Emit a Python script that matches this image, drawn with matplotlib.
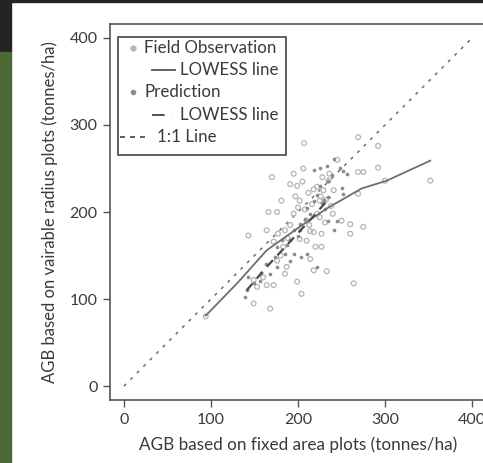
"""
AGB comparison: variable radius plots vs fixed area plots.
Field observations, model predictions, LOWESS lines and 1:1 reference.
"""
import matplotlib
matplotlib.use("Agg")
import matplotlib.pyplot as plt
from matplotlib.lines import Line2D
from matplotlib.patches import Rectangle

plt.rcParams["font.family"] = ["Lato", "DejaVu Sans"]

# ---------------------------------------------------------------------------
# Data
# ---------------------------------------------------------------------------

obs_x = [207, 269, 292, 245, 292, 269, 275, 352, 300, 170, 195, 206, 191, 199,
         222, 229, 235, 241, 269, 181, 166, 176, 195, 202, 216, 222, 225, 260,
         275, 260, 164, 143, 177, 185, 191, 218, 227, 202, 210, 220, 227, 214,
         187, 176, 185, 199, 218, 233, 153, 164, 172, 264, 204, 149, 168, 94,
         149, 160, 225, 231, 240, 210, 212, 228, 205, 197, 183, 238, 250, 214,
         218, 226, 232, 208, 200, 188, 172, 180, 213, 236]
obs_y = [279, 286, 276, 260, 251, 246, 246, 236, 236, 240, 244, 250, 232, 230,
         229, 225, 236, 225, 221, 213, 200, 200, 198, 213, 209, 198, 213, 186,
         183, 175, 179, 173, 175, 179, 185, 177, 175, 169, 167, 160, 160, 146,
         137, 144, 129, 120, 133, 132, 114, 116, 116, 118, 106, 95, 89, 80,
         122, 125, 194, 188, 198, 190, 222, 240, 235, 218, 160, 207, 190, 178,
         226, 218, 214, 203, 205, 170, 166, 150, 185, 244]

pred_x = [241, 233, 225, 218, 248, 252, 256, 250, 252, 245, 241, 235, 214, 210,
          218, 195, 191, 187, 185, 176, 173, 176, 168, 156, 149, 141, 139, 143,
          202, 202, 195, 191, 204, 210, 222, 235, 231, 225, 235, 239, 228, 208,
          200, 182, 163, 158, 222, 230]
pred_y = [261, 253, 250, 248, 250, 247, 244, 228, 221, 190, 179, 190, 198, 205,
          213, 179, 168, 162, 152, 160, 148, 137, 129, 121, 118, 110, 102, 125,
          186, 179, 152, 144, 148, 152, 137, 217, 203, 230, 236, 242, 210, 192,
          172, 168, 140, 130, 220, 214]

lowess_obs_x = [94, 130, 164, 202, 233, 273, 302, 352]
lowess_obs_y = [81, 118, 156, 183, 204, 227, 236, 259]

lowess_pred_x = [141, 165, 190, 215, 237]
lowess_pred_y = [110, 138, 165, 192, 217]

one_to_one = [0, 400]

TICKS = [0, 100, 200, 300, 400]

COL_OBS = "#b4b4b4"
COL_PRED = "#8c8c8c"
COL_TEXT = "#3a3a3a"
COL_AXIS = "#555555"

# ---------------------------------------------------------------------------
# Figure
# ---------------------------------------------------------------------------

fig = plt.figure(figsize=(4.83, 4.63), dpi=100, facecolor="white")
W, H = 483, 463

# dark frame bits around the white page (top strip + left strip)
fig.patches.append(Rectangle((0, 1 - 2 / H), 1, 2 / H, transform=fig.transFigure,
                             color="#242424", zorder=0))
fig.patches.append(Rectangle((0, 1 - 52 / H), 11 / W, 52 / H, transform=fig.transFigure,
                             color="#242424", zorder=0))
fig.patches.append(Rectangle((0, 0), 11 / W, 1 - 52 / H, transform=fig.transFigure,
                             color="#4b6a35", zorder=0))

ax = fig.add_axes([110 / W, 63 / H, 376 / W, 376 / H])
ax.set_xlim(-16, 416)
ax.set_ylim(-16, 416)

ax.plot(one_to_one, one_to_one, color="#6a6a6a", lw=1.1, ls=(0, (2, 4)), zorder=2)
ax.scatter(obs_x, obs_y, s=12, facecolors="none", edgecolors=COL_OBS,
           linewidths=0.9, zorder=3)
ax.scatter(pred_x, pred_y, s=7, color=COL_PRED, linewidths=0, zorder=4)
ax.plot(lowess_obs_x, lowess_obs_y, color="#6e6e6e", lw=1.3, zorder=5)
ax.plot(lowess_pred_x, lowess_pred_y, color="#4a4a4a", lw=1.6,
        ls=(0, (4, 3)), zorder=5)

ax.set_xticks(TICKS)
ax.set_yticks(TICKS)
ax.tick_params(direction="out", length=5, width=1, color=COL_AXIS,
               labelcolor=COL_TEXT, labelsize=11.5, pad=4)
for sp in ax.spines.values():
    sp.set_color(COL_AXIS)
    sp.set_linewidth(1.2)

ax.set_xlabel("AGB based on fixed area plots (tonnes/ha)", fontsize=12.3,
              color=COL_TEXT, labelpad=7)
ax.set_ylabel("AGB based on vairable radius plots (tonnes/ha)", fontsize=12,
              color=COL_TEXT, labelpad=8)

# ---------------------------------------------------------------------------
# Hand-made legend (R style, indented line entries)
# ---------------------------------------------------------------------------

def px(x, y):
    """figure pixel -> axes fraction"""
    return (x - 110) / 376, (400 - y) / 376

x0, y0 = px(118, 155)
x1, y1 = px(286, 37)
ax.add_patch(Rectangle((x0, y0), x1 - x0, y1 - y0, transform=ax.transAxes,
                       facecolor="white", edgecolor=COL_AXIS, lw=1.3, zorder=6))

rows = [48, 70, 92, 115, 137]
fs = 12.2

mx, my = px(133, rows[0])
ax.add_line(Line2D([mx], [my], transform=ax.transAxes, marker="o", ms=3.5,
                   mfc=COL_OBS, mec=COL_OBS, ls="none", zorder=7))
ax.text(*px(144, rows[0]), "Field Observation", transform=ax.transAxes,
        fontsize=fs, color=COL_TEXT, va="center", zorder=7)

a, b = px(152, rows[1]), px(175, rows[1])
ax.add_line(Line2D([a[0], b[0]], [a[1], b[1]], transform=ax.transAxes,
                   color="#555555", lw=1.3, zorder=7))
ax.text(*px(180, rows[1]), "LOWESS line", transform=ax.transAxes,
        fontsize=fs, color=COL_TEXT, va="center", zorder=7)

mx, my = px(133, rows[2])
ax.add_line(Line2D([mx], [my], transform=ax.transAxes, marker="o", ms=3,
                   mfc=COL_PRED, mec=COL_PRED, ls="none", zorder=7))
ax.text(*px(144, rows[2]), "Prediction", transform=ax.transAxes,
        fontsize=fs, color=COL_TEXT, va="center", zorder=7)

a, b = px(152, rows[3]), px(172, rows[3])
ax.add_line(Line2D([a[0], b[0]], [a[1], b[1]], transform=ax.transAxes,
                   color="#444444", lw=1.3, ls=(0, (7, 4)), zorder=7))
ax.text(*px(180, rows[3]), "LOWESS line", transform=ax.transAxes,
        fontsize=fs, color=COL_TEXT, va="center", zorder=7)

a, b = px(120, rows[4]), px(148, rows[4])
ax.add_line(Line2D([a[0], b[0]], [a[1], b[1]], transform=ax.transAxes,
                   color="#444444", lw=1.2, ls=(0, (3, 3)), zorder=7))
ax.text(*px(157, rows[4]), "1:1 Line", transform=ax.transAxes,
        fontsize=fs, color=COL_TEXT, va="center", zorder=7)

fig.savefig("out.png", dpi=100)
